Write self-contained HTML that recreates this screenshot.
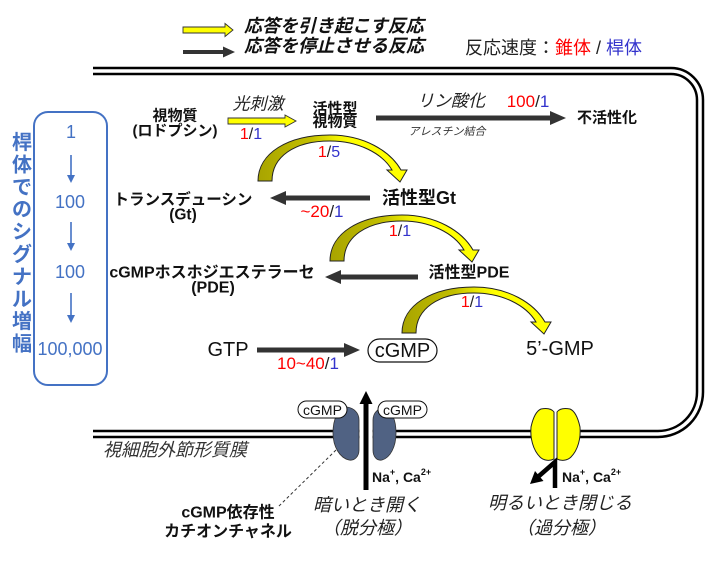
<!DOCTYPE html>
<html><head><meta charset="utf-8">
<style>
html,body{margin:0;padding:0;background:#fff;}
svg{display:block;}
text{font-family:"Liberation Sans","Noto Sans CJK JP",sans-serif;}
</style></head>
<body>
<svg width="720" height="565" viewBox="0 0 720 565" xmlns="http://www.w3.org/2000/svg">
<defs>
<linearGradient id="g" x1="0" y1="0" x2="1" y2="0">
<stop offset="0" stop-color="#a8a400"/>
<stop offset="0.35" stop-color="#c2be00"/>
<stop offset="0.52" stop-color="#eeee00"/>
<stop offset="0.62" stop-color="#ffff00"/>
<stop offset="1" stop-color="#ffff00"/>
</linearGradient>
<path id="arc" d="M0,0 C0,-28 30,-46 72,-46 C106,-46 132,-30 143,-11 L149,-11 L142,1 L129,-11 L134,-11 C124,-28 100,-40 72,-40 C36,-40 14,-24 14,0 Z"/>
</defs>
<rect width="720" height="565" fill="#fff"/>

<!-- legend -->
<polygon points="183,27 225,27 225,23.5 233,30 225,36.5 225,33 183,33" fill="#ffff00" stroke="#333" stroke-width="0.9"/>
<polygon points="183,50 223,50 223,46.5 235,52 223,57.5 223,54 183,54" fill="#333"/>
<text x="244" y="26" font-size="18" font-weight="bold" font-style="italic" dominant-baseline="central" fill="#111">応答を引き起こす反応</text>
<text x="244" y="46" font-size="18" font-weight="bold" font-style="italic" dominant-baseline="central" fill="#111">応答を停止させる反応</text>
<text x="465" y="48" font-size="18" dominant-baseline="central" fill="#222">反応速度：<tspan fill="#ff0000">錐体</tspan> / <tspan fill="#3333cc">桿体</tspan></text>

<!-- frame -->
<path d="M93,68 H671 A32,32 0 0 1 703,100 V392 A45,45 0 0 1 658,437 H93" fill="none" stroke="#000" stroke-width="2.5"/>
<path d="M93,74 H671 A26,26 0 0 1 697,100 V392 A39,39 0 0 1 658,431 H93" fill="none" stroke="#000" stroke-width="2.5"/>

<!-- left blue box -->
<rect x="34" y="112" width="73" height="273" rx="14" fill="none" stroke="#4472c4" stroke-width="2"/>
<g font-size="20" font-weight="bold" fill="#4472c4" text-anchor="middle" dominant-baseline="central">
<text x="22" y="143">桿</text><text x="22" y="165.4">体</text><text x="22" y="187.8">で</text><text x="22" y="210.2">の</text><text x="22" y="232.6">シ</text><text x="22" y="255">グ</text><text x="22" y="277.4">ナ</text><text x="22" y="299.8">ル</text><text x="22" y="322.2">増</text><text x="22" y="344.6">幅</text>
</g>
<g font-size="18" fill="#4472c4" text-anchor="middle" dominant-baseline="central">
<text x="71" y="132">1</text><text x="70" y="202">100</text><text x="70" y="272">100</text><text x="70" y="349">100,000</text>
</g>
<g stroke="#4472c4" stroke-width="1.6"><line x1="71" y1="155" x2="71" y2="176"/><line x1="71" y1="222" x2="71" y2="244"/><line x1="71" y1="293" x2="71" y2="316"/></g>
<g fill="#4472c4"><polygon points="67,175 75,175 71,183"/><polygon points="67,243 75,243 71,251"/><polygon points="67,315 75,315 71,323"/></g>

<!-- row 1 -->
<text x="175" y="116" font-size="15" font-weight="bold" text-anchor="middle" dominant-baseline="central" fill="#111">視物質</text>
<text x="175" y="131" font-size="15" font-weight="bold" text-anchor="middle" dominant-baseline="central" fill="#111">(ロドプシン)</text>
<text x="258" y="104" font-size="17" font-style="italic" text-anchor="middle" dominant-baseline="central" fill="#222">光刺激</text>
<polygon points="228,118 285,118 285,115 296,121 285,127 285,124 228,124" fill="#ffff00" stroke="#333" stroke-width="0.9"/>
<text x="251" y="134" font-size="16" text-anchor="middle" dominant-baseline="central"><tspan fill="#ff0000">1</tspan><tspan fill="#222">/</tspan><tspan fill="#3333cc">1</tspan></text>
<text x="335" y="109" font-size="15" font-weight="bold" text-anchor="middle" dominant-baseline="central" fill="#111">活性型</text>
<text x="335" y="122" font-size="15" font-weight="bold" text-anchor="middle" dominant-baseline="central" fill="#111">視物質</text>
<polygon points="376,115.5 550,115.5 550,111 566,118 550,125 550,120.5 376,120.5" fill="#333"/>
<text x="451" y="101" font-size="17" font-style="italic" text-anchor="middle" dominant-baseline="central" fill="#222">リン酸化</text>
<text x="528" y="101" font-size="17" text-anchor="middle" dominant-baseline="central"><tspan fill="#ff0000">100</tspan><tspan fill="#222">/</tspan><tspan fill="#3333cc">1</tspan></text>
<text x="447" y="132" font-size="11" font-style="italic" text-anchor="middle" dominant-baseline="central" fill="#333">アレスチン結合</text>
<text x="607" y="118" font-size="15" font-weight="bold" text-anchor="middle" dominant-baseline="central" fill="#111">不活性化</text>

<!-- arcs -->
<use href="#arc" x="258" y="181" fill="url(#g)" stroke="#222" stroke-width="1"/>
<use href="#arc" x="330" y="261" fill="url(#g)" stroke="#222" stroke-width="1"/>
<use href="#arc" x="402" y="333" fill="url(#g)" stroke="#222" stroke-width="1"/>
<text x="329" y="152" font-size="16" text-anchor="middle" dominant-baseline="central"><tspan fill="#ff0000">1</tspan><tspan fill="#222">/</tspan><tspan fill="#3333cc">5</tspan></text>
<text x="400" y="231" font-size="16" text-anchor="middle" dominant-baseline="central"><tspan fill="#ff0000">1</tspan><tspan fill="#222">/</tspan><tspan fill="#3333cc">1</tspan></text>
<text x="472" y="302" font-size="16" text-anchor="middle" dominant-baseline="central"><tspan fill="#ff0000">1</tspan><tspan fill="#222">/</tspan><tspan fill="#3333cc">1</tspan></text>

<!-- row Gt -->
<text x="419" y="198" font-size="18" font-weight="bold" text-anchor="middle" dominant-baseline="central" fill="#111">活性型Gt</text>
<polygon points="370,195.5 286,195.5 286,191 270,198 286,205 286,200.5 370,200.5" fill="#333"/>
<text x="322" y="211" font-size="17" text-anchor="middle" dominant-baseline="central"><tspan fill="#ff0000">~20</tspan><tspan fill="#222">/</tspan><tspan fill="#3333cc">1</tspan></text>
<text x="183" y="200" font-size="15.5" font-weight="bold" text-anchor="middle" dominant-baseline="central" fill="#111">トランスデューシン</text>
<text x="183" y="215" font-size="15.5" font-weight="bold" text-anchor="middle" dominant-baseline="central" fill="#111">(Gt)</text>

<!-- row PDE -->
<text x="469" y="273" font-size="16" font-weight="bold" text-anchor="middle" dominant-baseline="central" fill="#111">活性型PDE</text>
<polygon points="418,274.5 341,274.5 341,270 325,277 341,284 341,279.5 418,279.5" fill="#333"/>
<text x="212" y="273" font-size="16" font-weight="bold" text-anchor="middle" dominant-baseline="central" fill="#111">cGMPホスホジエステラーセ</text>
<text x="213" y="288" font-size="16" font-weight="bold" text-anchor="middle" dominant-baseline="central" fill="#111">(PDE)</text>

<!-- row GTP -->
<text x="228" y="350" font-size="20" text-anchor="middle" dominant-baseline="central" fill="#111">GTP</text>
<polygon points="257,347.5 344,347.5 344,343 360,350 344,357 344,352.5 257,352.5" fill="#333"/>
<text x="308" y="363" font-size="17" text-anchor="middle" dominant-baseline="central"><tspan fill="#ff0000">10~40</tspan><tspan fill="#222">/</tspan><tspan fill="#3333cc">1</tspan></text>
<rect x="368" y="339" width="69" height="23" rx="11.5" fill="#fff" stroke="#111" stroke-width="1.2"/>
<text x="402.5" y="351" font-size="20" text-anchor="middle" dominant-baseline="central" fill="#111">cGMP</text>
<text x="560" y="349" font-size="20" text-anchor="middle" dominant-baseline="central" fill="#111">5’-GMP</text>

<!-- membrane label -->
<text x="103" y="450" font-size="18" font-style="italic" dominant-baseline="central" fill="#333">視細胞外節形質膜</text>

<!-- dark channel -->
<path d="M347,407 C354,408 359,413 359,420 L359,450 C359,457 354,461 349,460 C340,458 333,447 333,433 C333,420 337,410 347,407 Z" fill="#506283" stroke="#333" stroke-width="0.8"/>
<path d="M384,408 C378,408 373,413 373,420 L373,450 C373,457 377,461 382,460 C390,458 396,447 396,433 C396,420 392,410 384,408 Z" fill="#506283" stroke="#333" stroke-width="0.8"/>
<rect x="359.5" y="427" width="13" height="12" fill="#fff"/>
<rect x="298" y="401" width="49" height="17" rx="8.5" fill="#fff" stroke="#111" stroke-width="1"/>
<text x="322.5" y="410" font-size="14" text-anchor="middle" dominant-baseline="central" fill="#111">cGMP</text>
<rect x="378" y="401" width="49" height="17" rx="8.5" fill="#fff" stroke="#111" stroke-width="1"/>
<text x="402.5" y="410" font-size="14" text-anchor="middle" dominant-baseline="central" fill="#111">cGMP</text>
<rect x="363.5" y="403" width="5" height="87" fill="#000"/>
<polygon points="359.5,404 372.5,404 366,391" fill="#000"/>
<text x="372" y="477" font-size="14" font-weight="bold" dominant-baseline="central" fill="#111">Na<tspan font-size="9" dy="-5">+</tspan><tspan dy="5">, Ca</tspan><tspan font-size="9" dy="-5">2+</tspan></text>
<line x1="336" y1="450" x2="278" y2="507" stroke="#333" stroke-width="1" stroke-dasharray="3,2.5"/>
<text x="228" y="513" font-size="16" font-weight="bold" text-anchor="middle" dominant-baseline="central" fill="#111">cGMP依存性</text>
<text x="228" y="532" font-size="16" font-weight="bold" text-anchor="middle" dominant-baseline="central" fill="#111">カチオンチャネル</text>
<text x="367" y="505" font-size="18" font-style="italic" text-anchor="middle" dominant-baseline="central" fill="#222">暗いとき開く</text>
<text x="367" y="528" font-size="18" font-style="italic" text-anchor="middle" dominant-baseline="central" fill="#222">（脱分極）</text>

<!-- yellow channel -->
<path d="M554,412 C551,408 546,408 541,409 C536,411 533,418 531,427 C530,438 533,450 540,457 C544,461 550,461 554,459 Z" fill="#ffff00" stroke="#222" stroke-width="1"/>
<path d="M557,412 C560,408 565,408 570,409 C575,411 578,418 580,427 C581,438 578,450 571,457 C567,461 561,461 557,459 Z" fill="#ffff00" stroke="#222" stroke-width="1"/>
<rect x="554.5" y="427" width="2" height="12" fill="#fff"/>
<polyline points="555,488 555,462 539,476" fill="none" stroke="#000" stroke-width="4.5" stroke-linejoin="miter"/>
<polygon points="530,484 543.5,481 535,471" fill="#000"/>
<text x="562" y="477" font-size="14" font-weight="bold" dominant-baseline="central" fill="#111">Na<tspan font-size="9" dy="-5">+</tspan><tspan dy="5">, Ca</tspan><tspan font-size="9" dy="-5">2+</tspan></text>
<text x="560" y="503" font-size="18" font-style="italic" text-anchor="middle" dominant-baseline="central" fill="#222">明るいとき閉じる</text>
<text x="561" y="528" font-size="18" font-style="italic" text-anchor="middle" dominant-baseline="central" fill="#222">（過分極）</text>
</svg>
</body></html>
